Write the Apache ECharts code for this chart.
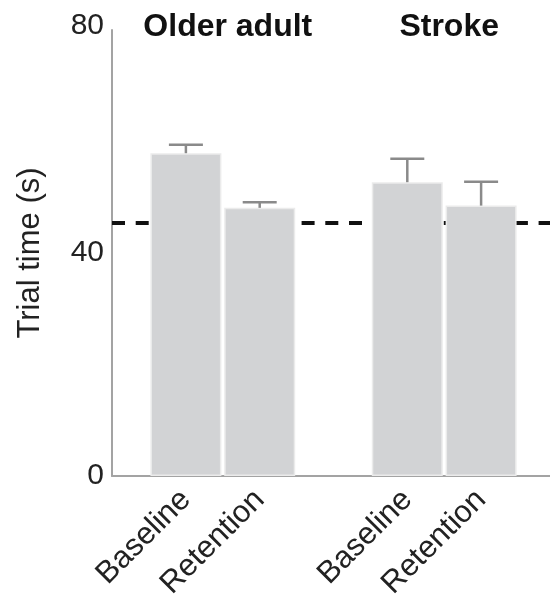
<!DOCTYPE html>
<html>
<head>
<meta charset="utf-8">
<script src="https://cdn.jsdelivr.net/npm/echarts@6/dist/echarts.min.js"></script>
<style>html,body{margin:0;padding:0;background:#fff}#c{width:550px;height:594px}</style>
</head>
<body>
<div id="c"></div>
<script>
// ---- data ----
var categories = ['Baseline', 'Retention', '', 'Baseline', 'Retention'];
var groupNames = ['Older adult', 'Stroke'];
var means = [57.9, 48.1, null, 52.7, 48.5];
var errors = [1.5, 1.0, null, 4.2, 4.3];
var referenceLevel = 45.4;
var yTicks = [0, 40, 80];

var FONT = '"Liberation Sans", Arial, Helvetica, sans-serif';
var chart = echarts.init(document.getElementById('c'), null, {renderer: 'canvas'});

var barData = means.map(function (v) { return v == null ? '-' : v; });
var errData = [];
means.forEach(function (v, i) {
  if (v != null) errData.push([i, v, v + errors[i]]);
});

var G1_LEFT = 149, G1_RIGHT = 32;
var slotW = (550 - G1_LEFT - G1_RIGHT) / categories.length;

var option = {
  animation: false,
  backgroundColor: '#fff',
  title: [
    {text: groupNames[0], left: G1_LEFT + slotW * 1, top: 6, textAlign: 'center',
     textStyle: {fontFamily: FONT, fontSize: 32, fontWeight: 'bold', color: '#111'}},
    {text: groupNames[1], left: G1_LEFT + slotW * 4, top: 6, textAlign: 'center',
     textStyle: {fontFamily: FONT, fontSize: 32, fontWeight: 'bold', color: '#111'}}
  ],
  grid: [
    {left: 112, right: 0, top: 30, bottom: 118, containLabel: false, outerBoundsMode: 'none'},
    {left: G1_LEFT, right: G1_RIGHT, top: 30, bottom: 118, containLabel: false, outerBoundsMode: 'none'}
  ],
  xAxis: [
    {gridIndex: 0, type: 'value', min: 0, max: 1, show: true,
     axisLine: {show: true, onZero: false, lineStyle: {color: '#a3a3a3', width: 2}},
     axisTick: {show: false}, axisLabel: {show: false}, splitLine: {show: false}},
    {gridIndex: 1, type: 'category', data: categories,
     axisLine: {show: false}, axisTick: {show: false}, splitLine: {show: false},
     axisLabel: {rotate: 45, margin: 19, interval: 0, fontFamily: FONT, fontSize: 31, color: '#222'}}
  ],
  yAxis: [
    {gridIndex: 0, type: 'value', min: 0, max: 80, interval: 40,
     name: 'Trial time (s)', nameLocation: 'middle', nameGap: 66,
     nameTextStyle: {fontFamily: FONT, fontSize: 31, color: '#222'},
     axisLine: {show: true, lineStyle: {color: '#a3a3a3', width: 2}},
     axisTick: {show: false}, splitLine: {show: false},
     axisLabel: {margin: 8, fontFamily: FONT, fontSize: 30, color: '#222',
       formatter: function (v) {
         if (yTicks.indexOf(v) < 0) return '';
         return v === yTicks[yTicks.length - 1] ? '{top|' + v + '}' : String(v);
       },
       rich: {top: {fontFamily: FONT, fontSize: 30, color: '#222', padding: [0, 0, 8, 0]}}}},
    {gridIndex: 1, type: 'value', min: 0, max: 80, interval: 40, show: false}
  ],
  series: [
    {type: 'line', xAxisIndex: 0, yAxisIndex: 0, z: 1,
     data: [[0, referenceLevel], [1, referenceLevel]], symbol: 'none',
     lineStyle: {color: '#111', width: 4, type: [13, 10.7]}},
    {type: 'bar', xAxisIndex: 1, yAxisIndex: 1, z: 3, data: barData, barWidth: 71,
     itemStyle: {color: '#d2d3d5', borderColor: '#ebebeb', borderWidth: 1.5}},
    {type: 'custom', xAxisIndex: 1, yAxisIndex: 1, z: 4, data: errData,
     renderItem: function (params, api) {
       var x = api.value(0);
       var base = api.coord([x, api.value(1)]);
       var top = api.coord([x, api.value(2)]);
       var hw = 17;
       var st = {stroke: '#8a8a8a', lineWidth: 2.5};
       return {type: 'group', children: [
         {type: 'line', shape: {x1: base[0], y1: base[1], x2: top[0], y2: top[1]}, style: st},
         {type: 'line', shape: {x1: top[0] - hw, y1: top[1], x2: top[0] + hw, y2: top[1]}, style: st}
       ]};
     }}
  ]
};
chart.setOption(option);
</script>
</body>
</html>
